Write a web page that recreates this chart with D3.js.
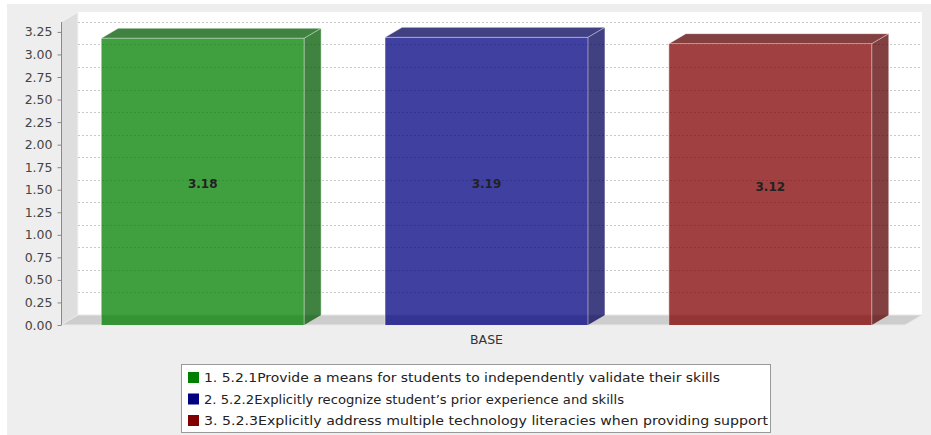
<!DOCTYPE html>
<html><head><meta charset="utf-8">
<script src="https://cdn.jsdelivr.net/npm/d3@7"></script>
<style>html,body{margin:0;padding:0;background:#fff;}svg{display:block;}</style>
</head><body>
<script>
const categories = ["BASE"];
const seriesNames = [
  "1. 5.2.1Provide a means for students to independently validate their skills",
  "2. 5.2.2Explicitly recognize student\u2019s prior experience and skills",
  "3. 5.2.3Explicitly address multiple technology literacies when providing support"
];
const values = [3.18, 3.19, 3.12];
const yTickValues = [0, 0.25, 0.5, 0.75, 1, 1.25, 1.5, 1.75, 2, 2.25, 2.5, 2.75, 3, 3.25];

const colors = ["#008000", "#000080", "#800000"];
const W = 931, H = 435;
const dx = 17, dy = 10;
const plotL = 61, plotR = 905, plotB = 325, plotT = 22;

const svg = d3.select("body").append("svg").attr("width", W).attr("height", H);
svg.append("rect").attr("x", 7).attr("y", 4).attr("width", W - 7).attr("height", H - 4).attr("fill", "#eeeeee");

const y = d3.scaleLinear().domain([0, 3.36]).range([plotB, plotT]);
const x = d3.scaleBand().domain(seriesNames).range([70, 903]).paddingInner(0.285).paddingOuter(0.11);

// back wall
svg.append("rect").attr("x", plotL + dx).attr("y", plotT - dy).attr("width", plotR - plotL).attr("height", plotB - plotT)
  .attr("fill", "#ffffff");
// left wall
svg.append("polygon").attr("points", [[plotL, plotT], [plotL + dx, plotT - dy], [plotL + dx, plotB - dy], [plotL, plotB]].join(" "))
  .attr("fill", "#dedede").attr("stroke", "#f4f4f4").attr("stroke-width", 1);
// floor
svg.append("polygon").attr("points", [[plotL, plotB], [plotL + dx, plotB - dy], [plotR + dx, plotB - dy], [plotR, plotB]].join(" "))
  .attr("fill", "#cdcdcd").attr("stroke", "#e8e8e8").attr("stroke-width", 1);

// gridlines on back wall
svg.append("g").selectAll("line").data(yTickValues.filter(d => d > 0)).join("line")
  .attr("x1", plotL + dx).attr("x2", plotR + dx)
  .attr("y1", d => Math.round(y(d) - dy) + 0.5).attr("y2", d => Math.round(y(d) - dy) + 0.5)
  .attr("stroke", "#c8c8c8").attr("stroke-width", 1).attr("stroke-dasharray", "2,2");

// y axis
const axis = d3.axisLeft(y).tickValues(yTickValues).tickFormat(d3.format(".2f")).tickSizeOuter(0).tickSize(4).tickPadding(5);
const ag = svg.append("g").attr("transform", `translate(${plotL + 0.5},0)`).call(axis);
ag.select(".domain").attr("stroke", "#888").attr("d", `M0,${plotT}V${plotB}`);
ag.selectAll(".tick line").attr("stroke", "#888");
ag.selectAll(".tick text").attr("font-family", "DejaVu Sans, sans-serif").attr("font-size", 12.5).attr("fill", "#444");

// bars
const bars = svg.append("g").selectAll("g").data(values).join("g");
bars.each(function(v, i) {
  const g = d3.select(this);
  const x0 = x(seriesNames[i]), w = x.bandwidth();
  const top = y(v);
  const c = d3.color(colors[i]);
  const dark = d3.rgb(Math.floor(c.r * 0.7), Math.floor(c.g * 0.7), Math.floor(c.b * 0.7));
  g.append("rect").attr("x", x0).attr("y", top).attr("width", w).attr("height", plotB - top)
    .attr("fill", colors[i]).attr("fill-opacity", 0.75);
  g.append("polygon").attr("points", [[x0, top], [x0 + dx, top - dy], [x0 + w + dx, top - dy], [x0 + w, top]].join(" "))
    .attr("fill", dark).attr("fill-opacity", 0.75);
  g.append("polygon").attr("points", [[x0 + w, top], [x0 + w + dx, top - dy], [x0 + w + dx, plotB - dy], [x0 + w, plotB]].join(" "))
    .attr("fill", dark).attr("fill-opacity", 0.75);
  // light outlines
  g.append("path").attr("d", `M${x0},${plotB}V${top}H${x0 + w}V${plotB}M${x0},${top}L${x0 + dx},${top - dy}H${x0 + w + dx}L${x0 + w},${top}M${x0 + w + dx},${top - dy}V${plotB - dy}`)
    .attr("fill", "none").attr("stroke", "#ffffff").attr("stroke-opacity", 0.45).attr("stroke-width", 1);
  g.append("text").attr("x", x0 + w / 2).attr("y", (top + plotB) / 2 + 3)
    .attr("text-anchor", "middle").attr("dominant-baseline", "middle")
    .attr("font-family", "DejaVu Sans, sans-serif").attr("font-weight", "bold").attr("font-size", 12)
    .attr("fill", "#222").text(d3.format(".2f")(v));
});

// category label
svg.append("text").attr("x", (x(seriesNames[0]) + x(seriesNames[2]) + x.bandwidth()) / 2).attr("y", 344)
  .attr("text-anchor", "middle").attr("font-family", "DejaVu Sans, sans-serif").attr("font-size", 12.5).attr("fill", "#333")
  .text(categories[0]);

// legend
const lg = svg.append("g");
lg.append("rect").attr("x", 181.5).attr("y", 364.5).attr("width", 589).attr("height", 68)
  .attr("fill", "#fff").attr("stroke", "#999");
const legendTextWidths = [516, 420, 564];
seriesNames.forEach((s, i) => {
  const cy = 377 + i * 21.5;
  lg.append("rect").attr("x", 188).attr("y", cy - 5).attr("width", 11).attr("height", 11).attr("fill", colors[i]);
  lg.append("text").attr("x", 204).attr("y", cy + 5)
    .attr("font-family", "DejaVu Sans, sans-serif").attr("font-size", 13).attr("fill", "#222")
    .attr("textLength", legendTextWidths[i]).attr("lengthAdjust", "spacingAndGlyphs").text(s);
});
</script>
</body></html>
